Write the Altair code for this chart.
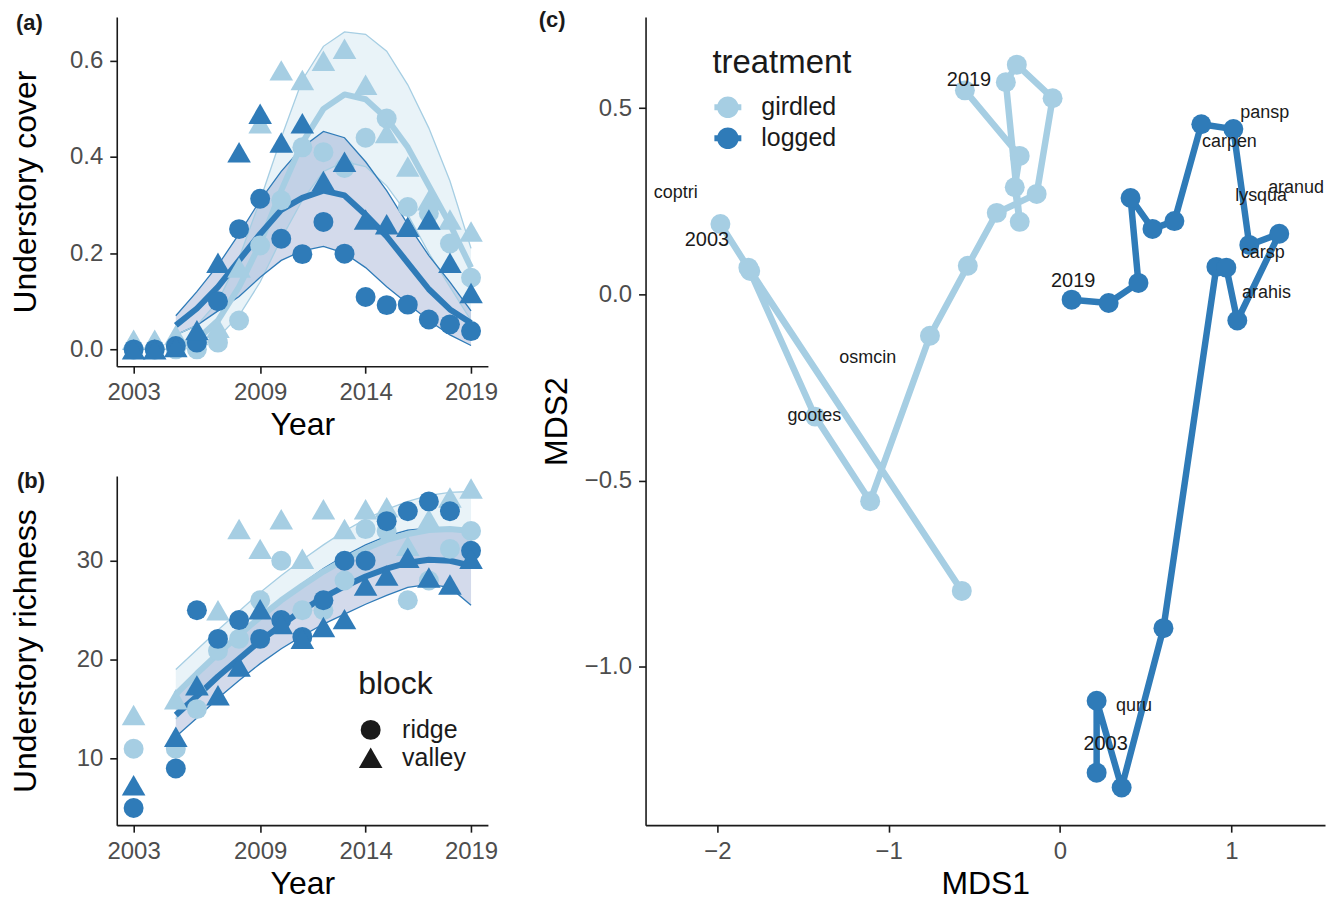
import altair as alt
import pandas as pd

FONT = "Liberation Sans"
LIGHT = "#a6cee3"
DARK = "#2f7bb8"
RIB_LIGHT = "#a6cee3"
RIB_DARK = "#4f6baf"
TRT = ["girdled", "logged"]

years = list(range(2003, 2020))
fit_years = list(range(2005, 2020))

# ---------------- panel (a): understory cover ----------------
cover_girdled_ridge = [0.0, 0.0, 0.0, 0.0, 0.014, 0.06, 0.216, 0.31, 0.42, 0.41, 0.377, 0.44, 0.48, 0.296, 0.283, 0.22, 0.149]
cover_girdled_valley = [0.02, 0.02, 0.03, 0.03, 0.045, 0.17, 0.47, 0.58, 0.56, 0.60, 0.625, 0.55, 0.45, 0.38, 0.31, 0.27, 0.245]
cover_logged_ridge = [0.0, 0.0, 0.007, 0.014, 0.10, 0.25, 0.313, 0.23, 0.198, 0.265, 0.199, 0.109, 0.092, 0.093, 0.062, 0.052, 0.038]
cover_logged_valley = [0.0, 0.0, 0.005, 0.04, 0.18, 0.41, 0.49, 0.43, 0.47, 0.35, 0.39, 0.27, 0.26, 0.255, 0.27, 0.18, 0.117]

cover_fit_girdled_mean = [0.005, 0.02, 0.06, 0.13, 0.22, 0.33, 0.43, 0.50, 0.53, 0.52, 0.48, 0.42, 0.34, 0.26, 0.17]
cover_fit_girdled_lower = [0.0, 0.005, 0.025, 0.07, 0.14, 0.23, 0.31, 0.37, 0.39, 0.38, 0.34, 0.28, 0.20, 0.13, 0.06]
cover_fit_girdled_upper = [0.03, 0.05, 0.10, 0.19, 0.31, 0.44, 0.56, 0.63, 0.66, 0.655, 0.62, 0.55, 0.46, 0.35, 0.21]
cover_fit_logged_mean = [0.05, 0.085, 0.13, 0.185, 0.24, 0.29, 0.315, 0.33, 0.32, 0.28, 0.235, 0.18, 0.125, 0.083, 0.055]
cover_fit_logged_lower = [0.03, 0.05, 0.08, 0.11, 0.15, 0.185, 0.205, 0.214, 0.20, 0.17, 0.13, 0.095, 0.06, 0.03, 0.008]
cover_fit_logged_upper = [0.07, 0.12, 0.175, 0.24, 0.31, 0.37, 0.42, 0.453, 0.44, 0.39, 0.33, 0.26, 0.195, 0.14, 0.08]

# ---------------- panel (b): understory richness ----------------
rich_girdled_ridge = [11.0, None, 11.0, 15.0, 20.9, 22.1, 26.0, 30.0, 25.0, 25.0, 28.0, 33.2, 33.0, 26.0, 28.0, 31.2, 33.0]
rich_girdled_valley = [14.4, None, 16.0, 17.5, 25.0, 33.2, 31.2, 34.2, 30.2, 35.2, 33.2, 35.2, 35.4, 31.5, 34.2, 36.4, 37.3]
rich_logged_ridge = [5.0, None, 9.0, 25.0, 22.1, 24.0, 22.1, 24.0, 22.3, 26.0, 30.0, 30.0, 34.0, 35.0, 36.0, 35.0, 31.0]
rich_logged_valley = [7.3, None, 12.2, 17.4, 16.4, 19.3, 25.1, 23.6, 22.1, 23.3, 24.1, 27.5, 28.5, 30.3, 28.3, 27.6, 30.2]

rich_fit_girdled_mean = [16.5, 18.6, 20.6, 22.5, 24.3, 26.0, 27.5, 28.9, 30.1, 31.2, 32.1, 32.7, 33.1, 33.2, 33.0]
rich_fit_girdled_lower = [14.0, 16.2, 18.2, 20.1, 21.9, 23.5, 25.0, 26.3, 27.4, 28.4, 29.2, 29.7, 29.9, 29.8, 29.4]
rich_fit_girdled_upper = [19.0, 21.0, 23.0, 24.9, 26.8, 28.5, 30.1, 31.6, 33.0, 34.2, 35.2, 36.0, 36.6, 36.9, 37.0]
rich_fit_logged_mean = [14.4, 16.3, 18.3, 20.1, 21.9, 23.5, 25.0, 26.3, 27.4, 28.4, 29.2, 29.8, 30.1, 30.0, 29.5]
rich_fit_logged_lower = [12.2, 14.1, 16.1, 17.9, 19.6, 21.1, 22.4, 23.6, 24.6, 25.6, 26.5, 27.3, 27.6, 27.3, 25.5]
rich_fit_logged_upper = [16.7, 18.5, 20.4, 22.3, 24.2, 26.0, 27.7, 29.2, 30.5, 31.6, 32.5, 33.1, 33.3, 33.3, 33.1]

# ---------------- panel (c): NMDS trajectories ----------------
girdled_mds1 = [-1.982, -1.808, -0.573, -1.819, -1.429, -1.108, -0.759, -0.538, -0.369, -0.136, -0.043, -0.252, -0.316, -0.235, -0.264, -0.235, -0.555]
girdled_mds2 = [0.189, 0.063, -0.796, 0.072, -0.328, -0.555, -0.111, 0.077, 0.219, 0.270, 0.527, 0.617, 0.570, 0.195, 0.288, 0.372, 0.548]
logged_mds1 = [0.214, 0.214, 0.360, 0.604, 0.913, 0.971, 1.035, 1.280, 1.105, 1.012, 0.825, 0.668, 0.540, 0.412, 0.458, 0.284, 0.068]
logged_mds2 = [-1.284, -1.091, -1.324, -0.896, 0.074, 0.072, -0.070, 0.163, 0.133, 0.444, 0.457, 0.197, 0.176, 0.259, 0.031, -0.023, -0.014]

species = ["coptri", "gootes", "osmcin", "pansp", "carpen", "lysqua", "aranud", "carsp", "arahis", "quru"]
species_mds1 = [-2.243, -1.434, -1.122, 1.195, 0.989, 1.174, 1.378, 1.184, 1.205, 0.432]
species_mds2 = [0.272, -0.327, -0.170, 0.486, 0.410, 0.263, 0.285, 0.111, 0.004, -1.104]

year_labels = ["2019", "2003", "2019", "2003"]
year_label_mds1 = [-0.531, -2.061, 0.077, 0.266]
year_label_mds2 = [0.575, 0.147, 0.035, -1.208]

# ---------------- helpers ----------------
color_scale = alt.Scale(domain=TRT, range=[LIGHT, DARK])
fill_scale = alt.Scale(domain=TRT, range=[RIB_LIGHT, RIB_DARK])
shape_scale = alt.Scale(domain=["ridge", "valley"], range=["circle", "triangle-up"])
size_scale = alt.Scale(domain=["ridge", "valley"], range=[400, 560])


def obs_frame(gr, gv, lr, lv):
    rows = []
    for trt, blk, vals in [("girdled", "ridge", gr), ("girdled", "valley", gv),
                           ("logged", "ridge", lr), ("logged", "valley", lv)]:
        for yr, v in zip(years, vals):
            if v is not None:
                rows.append({"year": yr, "value": v, "treatment": trt, "block": blk})
    return pd.DataFrame(rows)


def fit_frame(gm, gl, gu, lm, ll, lu):
    rows = []
    for trt, m, lo, up in [("girdled", gm, gl, gu), ("logged", lm, ll, lu)]:
        for yr, a, b, c in zip(fit_years, m, lo, up):
            rows.append({"year": yr, "mean": a, "lower": b, "upper": c, "treatment": trt})
    return pd.DataFrame(rows)


def panel_tag(text, dx, dy):
    return alt.Chart(pd.DataFrame({"tag": [text]})).mark_text(
        font=FONT, fontSize=22, fontWeight="bold", align="left", baseline="middle", color="#1a1a1a"
    ).encode(x=alt.value(dx), y=alt.value(dy), text="tag:N")


def trend_panel(obs, fit, ytitle, ydomain, yticks, yfmt, tag, block_legend, w, h):
    x = alt.X("year:Q", scale=alt.Scale(domain=[2002.2, 2019.8], nice=False, zero=False),
              axis=alt.Axis(values=[2003, 2009, 2014, 2019], format="d", title="Year", titlePadding=5))
    yscale = alt.Scale(domain=ydomain, nice=False, zero=False)
    yaxis = alt.Axis(values=yticks, format=yfmt, title=ytitle, titleX=-74)
    col = alt.Color("treatment:N", scale=color_scale, legend=None)
    base = alt.Chart(fit)
    ribbon = base.mark_area(opacity=0.25).encode(
        x=x, y=alt.Y("lower:Q", scale=yscale, axis=yaxis), y2="upper:Q",
        fill=alt.Fill("treatment:N", scale=fill_scale, legend=None))
    lo = base.mark_line(strokeWidth=1.3).encode(x=x, y=alt.Y("lower:Q", scale=yscale, axis=yaxis), color=col)
    up = base.mark_line(strokeWidth=1.3).encode(x=x, y=alt.Y("upper:Q", scale=yscale, axis=yaxis), color=col)
    mean = base.mark_line(strokeWidth=6, strokeJoin="round").encode(
        x=x, y=alt.Y("mean:Q", scale=yscale, axis=yaxis), color=col)
    pts = alt.Chart(obs).mark_point(filled=True, opacity=1, strokeWidth=0).encode(
        x=x, y=alt.Y("value:Q", scale=yscale, axis=yaxis), color=col,
        shape=alt.Shape("block:N", scale=shape_scale, legend=block_legend),
        size=alt.Size("block:N", scale=size_scale, legend=block_legend))
    return alt.layer(ribbon, lo, up, mean, pts, tag).properties(width=w, height=h)


cover_obs = obs_frame(cover_girdled_ridge, cover_girdled_valley, cover_logged_ridge, cover_logged_valley)
cover_fit = fit_frame(cover_fit_girdled_mean, cover_fit_girdled_lower, cover_fit_girdled_upper,
                      cover_fit_logged_mean, cover_fit_logged_lower, cover_fit_logged_upper)
rich_obs = obs_frame(rich_girdled_ridge, rich_girdled_valley, rich_logged_ridge, rich_logged_valley)
rich_fit = fit_frame(rich_fit_girdled_mean, rich_fit_girdled_lower, rich_fit_girdled_upper,
                     rich_fit_logged_mean, rich_fit_logged_lower, rich_fit_logged_upper)

block_legend = alt.Legend(
    title="block", orient="none", legendX=242, legendY=194, padding=0,
    titleFont=FONT, titleFontSize=32, titleFontWeight="normal", titleColor="#1a1a1a", titlePadding=16,
    labelFont=FONT, labelFontSize=25, labelColor="#1a1a1a", labelOffset=19,
    symbolFillColor="#1a1a1a", symbolStrokeWidth=0, symbolOffset=0, rowPadding=2)

panel_a = trend_panel(cover_obs, cover_fit, "Understory cover", [-0.035, 0.691], [0, 0.2, 0.4, 0.6], ".1f",
                      panel_tag("(a)", -101, 6), None, 372, 350)
panel_b = trend_panel(rich_obs, rich_fit, "Understory richness", [3.27, 38.57], [10, 20, 30], "d",
                      panel_tag("(b)", -100, 5), block_legend, 372, 350)

# panel (c)
traj_rows = []
for trt, xs, ys in [("girdled", girdled_mds1, girdled_mds2), ("logged", logged_mds1, logged_mds2)]:
    for yr, a, b in zip(years, xs, ys):
        traj_rows.append({"year": yr, "mds1": a, "mds2": b, "treatment": trt})
traj = pd.DataFrame(traj_rows)
spec_df = pd.DataFrame({"label": species, "mds1": species_mds1, "mds2": species_mds2})
yl_df = pd.DataFrame({"label": year_labels, "mds1": year_label_mds1, "mds2": year_label_mds2})

cx = alt.X("mds1:Q", scale=alt.Scale(domain=[-2.419, 1.547], nice=False, zero=False),
           axis=alt.Axis(values=[-2, -1, 0, 1], format="d", title="MDS1", titlePadding=5))
cy = alt.Y("mds2:Q", scale=alt.Scale(domain=[-1.425, 0.745], nice=False, zero=False),
           axis=alt.Axis(values=[-1.0, -0.5, 0.0, 0.5], format=".1f", title="MDS2", titleX=-72))

sym_path = ("M-1,-0.22 L-0.769,-0.22 A0.8,0.8 0 0 1 0.769,-0.22 L1,-0.22 L1,0.22 "
            "L0.769,0.22 A0.8,0.8 0 0 1 -0.769,0.22 L-1,0.22 Z")
trt_legend = alt.Legend(
    title="treatment", orient="none", legendX=67, legendY=30, padding=0,
    titleFont=FONT, titleFontSize=33, titleFontWeight="normal", titleColor="#1a1a1a", titlePadding=14,
    labelFont=FONT, labelFontSize=25, labelColor="#1a1a1a", labelOffset=20,
    symbolType=sym_path, symbolSize=729, symbolStrokeWidth=0, symbolOffset=2, rowPadding=4)

c_lines = alt.Chart(traj).mark_line(strokeWidth=6.5, strokeJoin="round").encode(
    x=cx, y=cy, color=alt.Color("treatment:N", scale=color_scale, legend=trt_legend), order="year:Q")
c_pts = alt.Chart(traj).mark_point(filled=True, opacity=1, size=400, strokeWidth=0).encode(
    x=cx, y=cy, color=alt.Color("treatment:N", scale=color_scale, legend=trt_legend))
c_spec = alt.Chart(spec_df).mark_text(font=FONT, fontSize=18, color="#1a1a1a").encode(x=cx, y=cy, text="label:N")
c_years = alt.Chart(yl_df).mark_text(font=FONT, fontSize=20, color="#1a1a1a").encode(x=cx, y=cy, text="label:N")

panel_c = alt.layer(c_lines, c_pts, c_spec, c_years, panel_tag("(c)", -107, 3)).properties(width=681, height=810)

left_col = alt.vconcat(panel_a, panel_b, spacing=110, bounds="flush").resolve_scale(
    color="independent", shape="independent", size="independent", fill="independent")

chart = alt.hconcat(left_col, panel_c, spacing=530, bounds="flush").resolve_scale(
    color="independent", shape="independent", size="independent", fill="independent"
).properties(padding={"left": 2, "top": 0, "right": 5, "bottom": 5}).configure(
    font=FONT
).configure_view(stroke=None).configure_axis(
    grid=False, domainColor="#1a1a1a", domainWidth=1.6, tickColor="#1a1a1a", tickWidth=1.6,
    tickSize=7, labelPadding=7, labelColor="#4d4d4d", labelFont=FONT, labelFontSize=24,
    titleFont=FONT, titleFontSize=32, titleFontWeight="normal", titleColor="#000000"
)

chart.save("out.html", embed_options={"renderer": "svg", "actions": False})
